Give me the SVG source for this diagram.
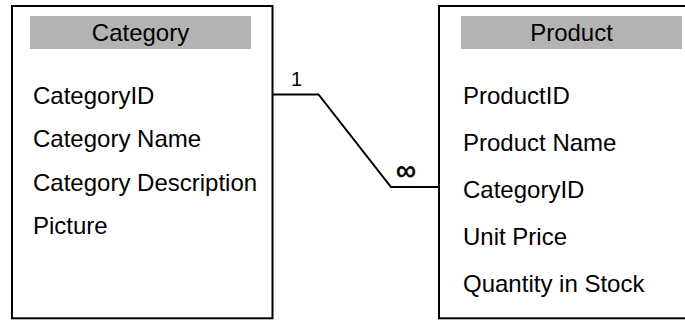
<svg xmlns="http://www.w3.org/2000/svg" width="685" height="322" viewBox="0 0 685 322">
<style>
.box{fill:#fff;stroke:#000;stroke-width:2}
.hdr{fill:#b3b3b3}
text{font-family:"Liberation Sans",Arial,sans-serif;font-size:24px;fill:#000}
.title{text-anchor:middle}
.conn{fill:none;stroke:#000;stroke-width:2}
.lbl{text-anchor:middle}
</style>
<rect width="685" height="322" fill="#fff"/>
<g id="category">
<rect class="box" x="12" y="6" width="260.5" height="312.3"/>
<rect class="hdr" x="30" y="16" width="221" height="33"/>
<text class="title" x="140.5" y="40.5">Category</text>
<text x="33" y="103.5">CategoryID</text>
<text x="33" y="147.3">Category Name</text>
<text x="33" y="191">Category Description</text>
<text x="33" y="234">Picture</text>
</g>
<g id="product">
<rect class="box" x="439" y="6" width="260" height="312.3"/>
<rect class="hdr" x="461" y="16" width="221" height="33"/>
<text class="title" x="571.5" y="40.5">Product</text>
<text x="463" y="103.5">ProductID</text>
<text x="463" y="150.5">Product Name</text>
<text x="463" y="197.5">CategoryID</text>
<text x="463" y="244.5">Unit Price</text>
<text x="463" y="291.5">Quantity in Stock</text>
</g>
<g id="connectors">
<polyline class="conn" points="273,94.5 318.5,94.5 391,187 438,187"/>
<text class="lbl" x="296.5" y="86" style="font-size:20px">1</text>
<text class="lbl" x="406" y="180" style="font-size:28px;stroke:#000;stroke-width:0.6">∞</text>
</g>
</svg>
